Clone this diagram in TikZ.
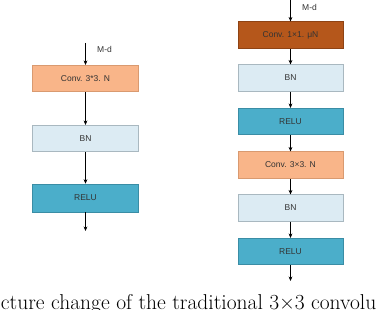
\documentclass[tikz,border=0pt]{standalone}
\usepackage{fontspec}
\newfontfamily\boxfont{Liberation Sans}
\usetikzlibrary{arrows.meta}
\definecolor{convA}{HTML}{F9B589}
\definecolor{convAb}{HTML}{D99A70}
\definecolor{convB}{HTML}{B5571B}
\definecolor{convBb}{HTML}{8E4314}
\definecolor{bnC}{HTML}{DCEBF3}
\definecolor{bnCb}{HTML}{A9B8C0}
\definecolor{reluC}{HTML}{4BAECA}
\definecolor{reluCb}{HTML}{3A8DA5}
\definecolor{txt}{HTML}{333333}
\tikzset{
  blk/.style={draw, line width=0.6pt, minimum height=26.5pt, inner sep=0pt, font=\boxfont\fontsize{8.5}{9}\selectfont, text=txt},
  lblk/.style={blk, minimum width=106pt},
  rblk/.style={blk, minimum width=105pt},
  cA/.style={fill=convA, draw=convAb},
  cB/.style={fill=convB, draw=convBb},
  cBN/.style={fill=bnC, draw=bnCb},
  cR/.style={fill=reluC, draw=reluCb},
  arr/.style={draw=black, line width=0.6pt, -{Stealth[length=4.5pt,width=3.8pt]}},
  lab/.style={font=\boxfont\fontsize{8.5}{9}\selectfont, text=txt, inner sep=0pt, anchor=west}
}
\begin{document}
\begin{tikzpicture}[x=1pt,y=-1pt]
\useasboundingbox (0,0) rectangle (378,310);
\clip (0,0) rectangle (378,310);
% left column
\coordinate (ltop) at (85.5,43);
\node[lblk,cA] (l1) at (85.5,78.5) {Conv. 3*3. N};
\node[lblk,cBN] (l2) at (85.5,138.5) {BN};
\node[lblk,cR,minimum height=28pt] (l3) at (85.5,198) {RELU};
\coordinate (lbot) at (85.5,231);
\node[lab] (lm) at (97,49) {M-d};
\draw[arr] (ltop) -- (l1.north);
\draw[arr] (l1.south) -- (l2.north);
\draw[arr] (l2.south) -- (l3.north);
\draw[arr] (l3.south) -- (lbot);
% right column
\coordinate (rtop) at (290.5,0);
\node[rblk,cB] (r1) at (290.5,35) {Conv. 1×1. μN};
\node[rblk,cBN] (r2) at (290.5,78) {BN};
\node[rblk,cR] (r3) at (290.5,121.5) {RELU};
\node[rblk,cA] (r4) at (290.5,165) {Conv. 3×3. N};
\node[rblk,cBN] (r5) at (290.5,208) {BN};
\node[rblk,cR] (r6) at (290.5,251.5) {RELU};
\coordinate (rbot) at (290.5,281);
\node[lab] (rm) at (302,7) {M-d};
\draw[arr] (rtop) -- (r1.north);
\draw[arr] (r1.south) -- (r2.north);
\draw[arr] (r2.south) -- (r3.north);
\draw[arr] (r3.south) -- (r4.north);
\draw[arr] (r4.south) -- (r5.north);
\draw[arr] (r5.south) -- (r6.north);
\draw[arr] (r6.south) -- (rbot);
% caption
\node[anchor=base west, inner sep=0pt, font=\fontsize{21.5}{24}\selectfont] (cap) at (0.8,309) {cture change of the traditional 3×3 convolu};
\end{tikzpicture}
\end{document}
